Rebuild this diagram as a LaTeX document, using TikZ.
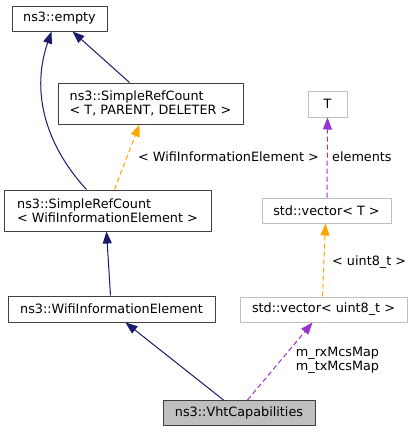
\documentclass[tikz,border=0pt]{standalone}
\usepackage{fontspec}
\setmainfont{DejaVu Sans}
\usetikzlibrary{arrows.meta}
\definecolor{inhblue}{RGB}{25,25,112}
\definecolor{tmplorange}{RGB}{255,165,0}
\definecolor{usepurple}{RGB}{154,50,205}
\definecolor{boxedge}{RGB}{64,64,64}
\definecolor{stdedge}{RGB}{191,191,191}
\definecolor{rootfill}{RGB}{191,191,191}
\begin{document}
\begin{tikzpicture}[x=1pt,y=-1pt,line join=round,
	cls/.style={draw=boxedge,line width=1pt,inner sep=0pt,align=left,font=\fontsize{12.8}{14}\selectfont},
	ext/.style={cls,draw=stdedge},
	lbl/.style={inner sep=0pt,font=\fontsize{12.8}{14}\selectfont},
	inh/.style={draw=inhblue,line width=1pt,-{Triangle[length=12pt,width=9pt]}},
	tmpl/.style={inh,draw=tmplorange,dash pattern=on 5pt off 3pt},
	usage/.style={inh,draw=usepurple,dash pattern=on 5pt off 3pt}]
	\useasboundingbox (0,0) rectangle (412,432);
	\node[cls,minimum width=95pt,minimum height=25pt] (empty) at (59.5,18.5) {ns3::empty};
	\node[cls,minimum width=185pt,minimum height=41pt] (srcT) at (150.5,103.5) {ns3::SimpleRefCount\\< T, PARENT, DELETER >};
	\node[cls,minimum width=207pt,minimum height=41pt] (srcW) at (107.5,210.5) {ns3::SimpleRefCount\\< WifiInformationElement >};
	\node[cls,minimum width=207pt,minimum height=26pt] (wie) at (111.5,309) {ns3::WifiInformationElement};
	\node[cls,fill=rootfill,minimum width=152pt,minimum height=25pt] (vht) at (239,413) {ns3::VhtCapabilities};
	\node[ext,minimum width=167pt,minimum height=25pt] (vecU) at (323.5,309.5) {std::vector< uint8\_t >};
	\node[ext,minimum width=129pt,minimum height=25pt] (vecT) at (326.5,210.5) {std::vector< T >};
	\node[ext,minimum width=39pt,minimum height=26pt] (T) at (327.5,104) {T};
	%kế thừa
	\draw[inh] ([xshift=83pt]srcW.north west) .. controls (50,150) and (29,97) .. ([xshift=40pt]empty.south west);
	\draw[inh] ([xshift=72pt]srcT.north west) -- ([xshift=61pt]empty.south west);
	\draw[inh] ([xshift=103pt]wie.north west) -- ([xshift=103pt]srcW.south west);
	\draw[inh] ([xshift=61pt]vht.north west) -- ([xshift=118pt]wie.south west);
	%mẫu, thành viên
	\draw[tmpl] ([xshift=111pt]srcW.north west) -- ([xshift=82pt]srcT.south west);
	\draw[tmpl] ([xshift=83pt]vecU.north west) -- ([xshift=64pt]vecT.south west);
	\draw[usage] ([xshift=85pt]vht.north west) -- ([xshift=73pt]vecU.south west);
	\draw[usage] ([xshift=0.5pt]vecT.north) -- (T.south);
	\node[lbl] (lblW) at (228.5,157) {< WifiInformationElement >};
	\node[lbl,anchor=west] (lblE) at (332,157) {elements};
	\node[lbl,anchor=west] (lblU) at (332,262) {< uint8\_t >};
	\node[lbl,align=center] (lblM) at (337.5,360) {m\_rxMcsMap\\m\_txMcsMap};
\end{tikzpicture}
\end{document}
